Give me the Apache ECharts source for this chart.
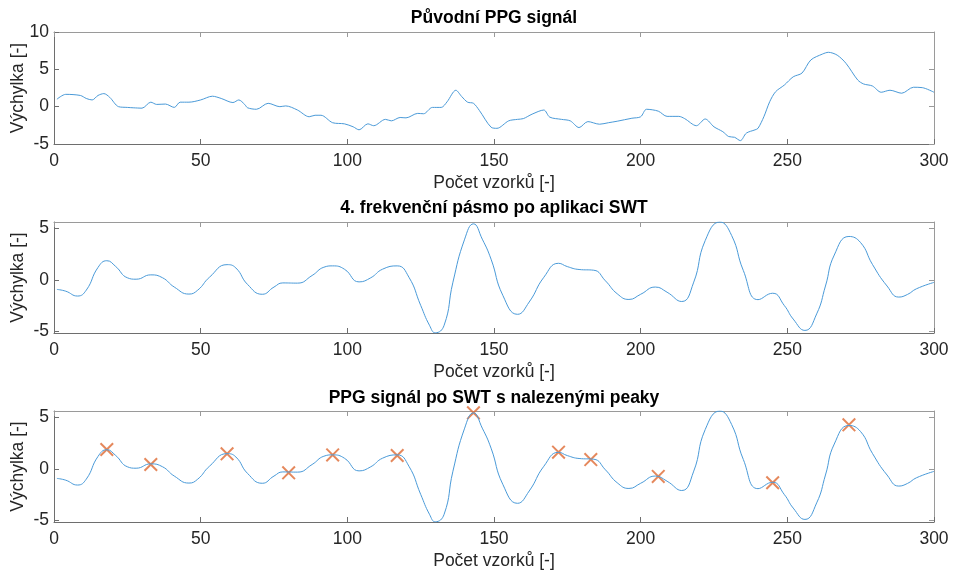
<!DOCTYPE html>
<html>
<head>
<meta charset="utf-8">
<script src="https://cdn.jsdelivr.net/npm/echarts@6/dist/echarts.min.js"></script>
<style>
  html, body { margin: 0; padding: 0; background: #fff; }
  #main { width: 954px; height: 575px; }
</style>
</head>
<body>
<div id="main"></div>
<script>
// puvodni PPG signal (vzorek, hodnota)
const rawX = [1, 4, 9, 11, 13, 15, 17, 19, 22, 25, 27, 30, 33, 35, 38, 41, 43, 46, 50, 54, 57, 61, 63, 65, 66, 69, 73, 77, 79, 83, 87, 89, 91, 95, 99, 102, 104, 107, 109, 113, 115, 118, 120, 124, 126, 129, 132, 134, 137, 139, 141, 143, 145, 149, 151, 155, 158, 160, 163, 167, 169, 173, 176, 179, 182, 186, 189, 192, 197, 200, 202, 206, 209, 213, 215, 219, 222, 225, 228, 230, 232, 234, 236, 239, 240, 242, 244, 246, 249, 252, 255, 258, 262, 264, 267, 270, 274, 276, 279, 282, 285, 289, 293, 296, 300]
const rawY = [1.0, 1.65, 1.5, 1.1, 0.9, 1.5, 1.75, 1.25, 0.0, -0.1, -0.15, -0.2, 0.6, 0.3, 0.35, -0.1, 0.6, 0.6, 0.9, 1.4, 1.1, 0.55, 0.9, 0.3, -0.15, -0.35, 0.45, 0.0, 0.1, -0.45, -1.35, -1.15, -1.15, -2.15, -2.3, -2.7, -3.1, -2.3, -2.55, -1.7, -1.9, -1.45, -1.5, -0.9, -0.95, -0.1, -0.1, 0.65, 2.2, 1.35, 0.6, 0.45, -0.5, -2.75, -2.9, -1.9, -1.7, -1.6, -1.0, -0.45, -1.4, -1.7, -1.9, -2.8, -2.0, -2.35, -2.15, -1.95, -1.55, -1.35, -0.35, -0.6, -1.3, -1.3, -1.6, -2.55, -1.65, -2.7, -3.35, -4.0, -4.1, -4.55, -3.55, -3.1, -2.9, -1.35, 0.67, 2.0, 2.9, 4.0, 4.5, 6.25, 7.05, 7.28, 6.9, 5.8, 3.57, 3.04, 2.77, 1.93, 2.2, 1.8, 2.6, 2.55, 1.93]

// 4. frekvencni pasmo po SWT
const swtX = [1, 4, 8, 11, 15, 18, 21, 25, 28, 33, 37, 41, 46, 49, 53, 59, 62, 66, 71, 75, 78, 83, 88, 92, 95, 99, 104, 108, 112, 117, 121, 125, 128, 130, 133, 136, 140, 143, 146, 149, 153, 158, 162, 167, 172, 175, 179, 184, 188, 192, 196, 200, 205, 209, 214, 218, 222, 227, 231, 235, 240, 245, 249, 252, 256, 260, 263, 266, 271, 275, 279, 284, 288, 291, 294, 300]
const swtY = [-0.93, -1.1, -1.57, -1.0, 1.2, 1.85, 1.3, 0.2, 0.06, 0.48, 0.2, -0.7, -1.38, -1.0, 0.25, 1.47, 1.15, -0.45, -1.4, -0.7, -0.3, -0.32, 0.42, 1.22, 1.35, 1.03, -0.2, 0.2, 1.03, 1.35, 0.25, -2.47, -4.4, -5.13, -4.4, -0.23, 3.94, 5.42, 3.94, 2.0, -1.5, -3.34, -2.15, 0.25, 1.6, 1.28, 1.0, 0.93, -0.1, -1.35, -1.9, -1.4, -0.7, -1.2, -2.1, -0.3, 3.8, 5.6, 4.3, 0.9, -1.92, -1.3, -2.5, -3.8, -4.9, -3.3, -0.6, 2.4, 4.2, 3.6, 1.5, -0.6, -1.67, -1.41, -0.87, -0.25]

// nalezene peaky
const peakX = [18, 33, 59, 80, 95, 117, 143, 172, 183, 206, 227, 245, 271]
const peakY = [1.87, 0.42, 1.45, -0.39, 1.35, 1.29, 5.42, 1.61, 0.9, -0.74, 5.65, -1.35, 4.26]

const titles = ['Původní PPG signál', '4. frekvenční pásmo po aplikaci SWT', 'PPG signál po SWT s nalezenými peaky']
const xName = 'Počet vzorků [-]'
const yName = 'Výchylka [-]'

const font = '"Liberation Sans", Arial, sans-serif'
const lineColor = '#4a9ad8'
const peakColor = '#e0733f'
const gridTops = [32, 222, 411]
const gridH = [112, 111, 111]
const titleY = [18, 208, 398]

function pairs(xs, ys) {
    return xs.map((x, i) => [x, ys[i]])
}

var chart = echarts.init(document.getElementById('main'));

let grids = []
let xAxes = []
let yAxes = []
for (let i = 0; i < 3; i++) {
    grids.push({ left: 54, width: 880, top: gridTops[i], height: gridH[i], containLabel: false, outerBoundsMode: 'none' })
    // bottom axis
    xAxes.push({
        type: 'value', gridIndex: i, min: 0, max: 300, interval: 50, position: 'bottom',
        name: xName, nameLocation: 'middle', nameGap: 30,
        nameTextStyle: { fontFamily: font, fontSize: 17.5, color: '#262626' },
        axisLine: { onZero: false, lineStyle: { color: '#6e6e6e', width: 1 } },
        axisTick: { inside: true, length: 5, lineStyle: { color: '#6e6e6e' } },
        axisLabel: { fontFamily: font, fontSize: 17.5, color: '#262626', margin: 8 },
        splitLine: { show: false }
    })
}
for (let i = 0; i < 3; i++) {
    // top box axis
    xAxes.push({
        type: 'value', gridIndex: i, min: 0, max: 300, interval: 50, position: 'top',
        axisLine: { onZero: false, lineStyle: { color: '#9a9a9a', width: 1 } },
        axisTick: { inside: true, length: 5, lineStyle: { color: '#9a9a9a' } },
        axisLabel: { show: false },
        splitLine: { show: false }
    })
}
const yLim = [[-5, 10], [-5.15, 5.6], [-5.15, 5.6]]
for (let i = 0; i < 3; i++) {
    let ax = {
        type: 'value', gridIndex: i, min: yLim[i][0], max: yLim[i][1], position: 'left',
        name: yName, nameLocation: 'middle', nameGap: 27, nameRotate: 90, nameMoveOverlap: false,
        nameTextStyle: { fontFamily: font, fontSize: 17.5, color: '#262626' },
        axisLine: { show: true, onZero: false, lineStyle: { color: '#6e6e6e', width: 1 } },
        axisTick: { show: true, inside: true, length: 5, lineStyle: { color: '#6e6e6e' } },
        axisLabel: { fontFamily: font, fontSize: 17.5, color: '#262626', margin: 5 },
        splitLine: { show: false }
    }
    if (i == 0) {
        ax.interval = 5
    } else {
        ax.axisTick.customValues = [-5, 0, 5]
        ax.axisLabel.customValues = [-5, 0, 5]
    }
    yAxes.push(ax)
}
for (let i = 0; i < 3; i++) {
    let ax = {
        type: 'value', gridIndex: i, min: yLim[i][0], max: yLim[i][1], position: 'right',
        axisLine: { show: true, onZero: false, lineStyle: { color: '#9a9a9a', width: 1 } },
        axisTick: { show: true, inside: true, length: 5, lineStyle: { color: '#9a9a9a' } },
        axisLabel: { show: false },
        splitLine: { show: false }
    }
    if (i == 0) {
        ax.interval = 5
    } else {
        ax.axisTick.customValues = [-5, 0, 5]
        ax.axisLabel.customValues = [-5, 0, 5]
    }
    yAxes.push(ax)
}

const lineBase = {
    type: 'line', showSymbol: false, symbol: 'none', animation: false,
    lineStyle: { color: lineColor, width: 1 }, silent: true
}

const option = {
    backgroundColor: '#fff',
    animation: false,
    grid: grids,
    xAxis: xAxes,
    yAxis: yAxes,
    graphic: titles.map((t, i) => ({
        type: 'text', x: 494, y: titleY[i],
        style: {
            text: t, textAlign: 'center', textVerticalAlign: 'middle',
            font: 'bold 17.5px ' + font, fill: '#000'
        }
    })),
    series: [
        Object.assign({}, lineBase, { xAxisIndex: 0, yAxisIndex: 0, smooth: 0.3, data: pairs(rawX, rawY) }),
        Object.assign({}, lineBase, { xAxisIndex: 1, yAxisIndex: 1, smooth: 0.5, data: pairs(swtX, swtY) }),
        Object.assign({}, lineBase, { xAxisIndex: 2, yAxisIndex: 2, smooth: 0.5, data: pairs(swtX, swtY) }),
        {
            type: 'scatter', xAxisIndex: 2, yAxisIndex: 2, animation: false, silent: true,
            symbol: 'path://M0,1L1,0L10,9L9,10Z M9,0L10,1L1,10L0,9Z', symbolSize: 14,
            itemStyle: { color: peakColor, opacity: 0.85 },
            data: pairs(peakX, peakY)
        }
    ]
};

option && chart.setOption(option);
</script>
</body>
</html>
